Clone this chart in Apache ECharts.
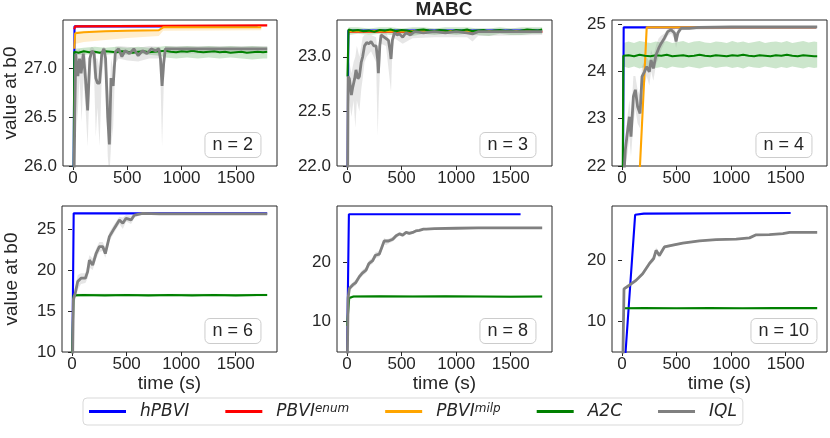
<!DOCTYPE html>
<html>
<head>
<meta charset="utf-8">
<script src="https://cdn.jsdelivr.net/npm/echarts@6/dist/echarts.min.js"></script>
<style>
html, body { margin: 0; padding: 0; background: #fff; }
#chart { width: 830px; height: 438px; }
</style>
</head>
<body>
<div id="chart"></div>
<script>
const algos = ['hPBVI', 'PBVI^enum', 'PBVI^milp', 'A2C', 'IQL']
const colors = ['#0000ff', '#ff0000', '#ffa500', '#008000', '#808080']
const panelLabels = ['n = 2', 'n = 3', 'n = 4', 'n = 6', 'n = 8', 'n = 10']
const xTicks = [0, 500, 1000, 1500]
const yMins = [26, 22, 22, 10, 4.9, 4.9]
const yMaxs = [27.495, 23.337, 25.085, 27.8, 29.5, 28.95]
const yTicks = [[26, 26.5, 27], [22, 22.5, 23], [22, 23, 24, 25], [10, 15, 20, 25], [10, 20], [10, 20]]

// ---- n = 2 ----
const hpbvi2 = [[3, 25.5], [14, 27.43], [1700, 27.43]]
const enum2 = [[12, 27.40], [20, 27.43], [800, 27.435], [1788, 27.44]]
const milp2 = [[12, 27.20], [20, 27.36], [100, 27.37], [300, 27.38], [500, 27.385], [790, 27.39], [830, 27.42], [1000, 27.42], [1400, 27.42], [1733, 27.42]]
const milpBand2 = [[15, 27.25, 27.38], [100, 27.27, 27.385], [300, 27.29, 27.39], [500, 27.31, 27.395], [790, 27.33, 27.40], [830, 27.385, 27.43], [1733, 27.39, 27.43]]
const a2c2 = [[6, 25.8], [12, 27.17], [50, 27.16], [100, 27.175], [150, 27.165], [200, 27.17], [250, 27.16], [300, 27.175], [350, 27.17], [400, 27.165], [450, 27.175], [500, 27.17], [550, 27.16], [600, 27.17], [650, 27.175], [700, 27.165], [750, 27.17], [800, 27.175], [850, 27.18], [900, 27.17], [950, 27.165], [1000, 27.175], [1050, 27.17], [1100, 27.18], [1150, 27.17], [1200, 27.165], [1250, 27.17], [1300, 27.175], [1350, 27.165], [1400, 27.17], [1450, 27.16], [1500, 27.165], [1550, 27.17], [1600, 27.16], [1650, 27.165], [1700, 27.17], [1750, 27.165], [1788, 27.17]]
const a2cBand2 = [[14, 27.14, 27.20], [100, 27.14, 27.21], [200, 27.15, 27.22], [300, 27.14, 27.21], [400, 27.15, 27.22], [500, 27.14, 27.21], [600, 27.15, 27.22], [700, 27.14, 27.21], [800, 27.13, 27.22], [850, 27.11, 27.23], [950, 27.10, 27.22], [1050, 27.11, 27.23], [1150, 27.10, 27.22], [1250, 27.11, 27.23], [1350, 27.10, 27.22], [1450, 27.11, 27.23], [1550, 27.10, 27.22], [1650, 27.09, 27.23], [1750, 27.10, 27.22], [1788, 27.10, 27.22]]
const iql2 = [[5, 25.5], [25, 27.15], [45, 26.92], [60, 27.1], [75, 26.95], [95, 27.15], [115, 26.9], [135, 26.57], [155, 27.1], [175, 27.18], [195, 27.15], [210, 26.9], [225, 26.85], [245, 26.85], [265, 27.15], [285, 27.2], [300, 27.1], [320, 26.5], [335, 26.22], [350, 26.9], [370, 26.82], [390, 27.17], [420, 27.2], [450, 27.12], [480, 27.18], [520, 27.15], [560, 27.2], [600, 27.13], [640, 27.18], [680, 27.15], [720, 27.2], [760, 27.18], [790, 27.2], [805, 27.1], [820, 26.82], [835, 27.05], [850, 27.2], [1000, 27.2], [1200, 27.2], [1500, 27.2], [1788, 27.2]]
const iqlBand2 = [[5, 25.5, 26.5], [25, 27.0, 27.2], [40, 26.45, 27.18], [60, 26.9, 27.2], [80, 26.45, 27.15], [95, 26.9, 27.2], [115, 26.6, 27.15], [135, 26.2, 26.9], [155, 26.9, 27.2], [175, 27.1, 27.22], [195, 26.9, 27.2], [210, 26.3, 27.1], [225, 26.6, 27.1], [245, 26.2, 27.0], [265, 26.9, 27.2], [285, 27.1, 27.22], [300, 26.9, 27.2], [320, 26.1, 26.9], [335, 25.9, 26.6], [350, 26.2, 27.1], [370, 26.4, 27.0], [390, 27.05, 27.22], [420, 27.1, 27.23], [500, 27.08, 27.22], [600, 27.07, 27.21], [700, 27.1, 27.23], [800, 27.1, 27.22], [805, 26.9, 27.2], [820, 26.2, 27.0], [835, 26.8, 27.15], [850, 27.15, 27.23], [1788, 27.16, 27.23]]

// ---- n = 3 ----
const hpbvi3 = [[2, 21.5], [12, 23.24], [1780, 23.24]]
const enum3 = [[10, 23.23], [1790, 23.23]]
const milp3 = [[10, 23.235], [1750, 23.235]]
const a2c3 = [[4, 22.82], [14, 23.25], [50, 23.24], [100, 23.245], [150, 23.235], [200, 23.24], [250, 23.23], [300, 23.245], [350, 23.24], [400, 23.25], [450, 23.235], [500, 23.245], [550, 23.24], [600, 23.23], [650, 23.245], [700, 23.25], [750, 23.24], [800, 23.235], [850, 23.245], [900, 23.24], [950, 23.23], [1000, 23.245], [1050, 23.24], [1100, 23.25], [1150, 23.235], [1200, 23.24], [1250, 23.245], [1300, 23.23], [1350, 23.24], [1400, 23.245], [1450, 23.235], [1500, 23.24], [1550, 23.23], [1600, 23.24], [1650, 23.25], [1700, 23.245], [1750, 23.24], [1788, 23.25]]
const a2cBand3 = [[4, 22.75, 22.9], [14, 23.2, 23.27], [100, 23.21, 23.27], [200, 23.2, 23.26], [300, 23.21, 23.27], [400, 23.2, 23.27], [500, 23.21, 23.26], [600, 23.19, 23.27], [700, 23.21, 23.27], [800, 23.2, 23.26], [900, 23.21, 23.27], [1000, 23.2, 23.27], [1100, 23.21, 23.27], [1200, 23.2, 23.26], [1300, 23.19, 23.26], [1400, 23.21, 23.27], [1500, 23.2, 23.26], [1600, 23.2, 23.27], [1700, 23.21, 23.27], [1788, 23.21, 23.27]]
const iql3 = [[5, 21.8], [10, 22.82], [21, 22.8], [40, 22.65], [52, 22.72], [70, 22.8], [82, 22.88], [100, 22.8], [113, 22.82], [130, 22.95], [143, 23.0], [160, 23.1], [180, 23.13], [200, 23.12], [220, 23.14], [245, 23.1], [266, 23.1], [280, 22.98], [287, 22.85], [300, 23.1], [312, 23.2], [340, 23.18], [357, 23.17], [380, 23.15], [395, 23.05], [403, 22.98], [415, 23.15], [434, 23.22], [460, 23.2], [480, 23.21], [510, 23.18], [540, 23.22], [580, 23.2], [620, 23.23], [700, 23.22], [800, 23.23], [900, 23.22], [1000, 23.23], [1100, 23.22], [1150, 23.21], [1200, 23.23], [1400, 23.23], [1600, 23.23], [1788, 23.23]]
const iqlBand3 = [[5, 21.5, 22.2], [10, 22.6, 22.9], [21, 22.6, 22.95], [40, 22.45, 22.85], [60, 22.6, 22.95], [76, 22.35, 23.0], [90, 22.6, 23.1], [113, 22.5, 23.0], [130, 22.7, 23.1], [143, 22.8, 23.18], [160, 22.95, 23.2], [180, 23.0, 23.2], [220, 23.05, 23.2], [266, 22.95, 23.18], [281, 22.28, 23.05], [290, 22.6, 23.1], [312, 23.12, 23.24], [357, 23.1, 23.23], [403, 22.68, 23.1], [415, 23.05, 23.22], [434, 23.17, 23.26], [510, 23.12, 23.24], [600, 23.17, 23.26], [800, 23.18, 23.26], [1100, 23.18, 23.25], [1150, 23.14, 23.25], [1200, 23.19, 23.26], [1788, 23.2, 23.26]]

// ---- n = 4 ----
const hpbvi4 = [[8, 21.5], [15, 24.93], [1780, 24.93]]
const milp4 = [[160, 21.8], [226, 24.93], [1780, 24.93]]
const a2c4 = [[6, 21.5], [12, 24.33], [60, 24.34], [110, 24.32], [160, 24.35], [210, 24.33], [260, 24.32], [310, 24.34], [360, 24.33], [410, 24.35], [460, 24.32], [510, 24.33], [560, 24.34], [610, 24.32], [660, 24.33], [710, 24.35], [760, 24.33], [810, 24.32], [860, 24.34], [910, 24.33], [960, 24.32], [1010, 24.34], [1060, 24.33], [1110, 24.35], [1160, 24.33], [1210, 24.32], [1260, 24.34], [1310, 24.33], [1360, 24.32], [1410, 24.34], [1460, 24.33], [1510, 24.35], [1560, 24.33], [1610, 24.32], [1660, 24.34], [1710, 24.33], [1760, 24.32], [1788, 24.32]]
const a2cBand4 = [[12, 24.1, 24.6], [60, 24.07, 24.63], [110, 24.1, 24.6], [160, 24.06, 24.64], [210, 24.09, 24.62], [260, 24.1, 24.6], [310, 24.07, 24.63], [360, 24.09, 24.61], [410, 24.06, 24.64], [460, 24.1, 24.6], [510, 24.08, 24.62], [560, 24.07, 24.64], [610, 24.1, 24.6], [660, 24.08, 24.63], [710, 24.06, 24.64], [760, 24.09, 24.61], [810, 24.1, 24.6], [860, 24.07, 24.63], [910, 24.09, 24.62], [960, 24.1, 24.6], [1010, 24.07, 24.64], [1060, 24.09, 24.61], [1110, 24.06, 24.63], [1160, 24.1, 24.6], [1210, 24.08, 24.62], [1260, 24.07, 24.64], [1310, 24.1, 24.6], [1360, 24.08, 24.62], [1410, 24.06, 24.63], [1460, 24.09, 24.61], [1510, 24.07, 24.64], [1560, 24.1, 24.6], [1610, 24.08, 24.62], [1660, 24.06, 24.64], [1710, 24.09, 24.61], [1760, 24.07, 24.63], [1788, 24.08, 24.62]]
const iql4 = [[10, 21.5], [30, 22.34], [52, 22.76], [67, 23.04], [82, 22.62], [104, 23.47], [122, 23.61], [143, 23.25], [165, 23.11], [183, 23.89], [205, 23.99], [226, 24.10], [250, 23.99], [266, 24.24], [287, 24.06], [312, 24.35], [336, 24.49], [358, 24.59], [388, 24.70], [419, 24.84], [449, 24.88], [480, 24.81], [495, 24.63], [511, 24.81], [541, 24.91], [617, 24.91], [700, 24.93], [1000, 24.94], [1788, 24.94]]
const iqlBand4 = [[10, 21.5, 22.0], [30, 22.0, 22.6], [52, 22.3, 23.1], [67, 22.6, 23.4], [82, 22.2, 23.0], [104, 22.9, 23.9], [122, 23.2, 23.9], [143, 22.9, 23.6], [165, 22.8, 23.5], [183, 23.6, 24.1], [205, 23.7, 24.2], [226, 23.9, 24.3], [250, 23.7, 24.2], [266, 24.0, 24.45], [287, 23.8, 24.3], [312, 24.15, 24.55], [336, 24.3, 24.7], [358, 24.45, 24.75], [388, 24.6, 24.8], [419, 24.75, 24.9], [449, 24.8, 24.95], [480, 24.7, 24.9], [495, 24.5, 24.8], [511, 24.7, 24.9], [541, 24.87, 24.95], [617, 24.88, 24.95], [1788, 24.92, 24.96]]

// ---- n = 6 ----
const hpbvi6 = [[2, 8], [15, 26.9], [1788, 26.9]]
const a2c6 = [[0, 9.5], [14, 16.9], [100, 16.95], [300, 16.9], [500, 16.95], [700, 16.9], [900, 16.95], [1100, 16.9], [1300, 16.95], [1500, 16.9], [1700, 16.95], [1788, 16.95]]
const a2cBand6 = [[14, 16.75, 17.1], [300, 16.8, 17.1], [700, 16.78, 17.08], [1100, 16.8, 17.1], [1500, 16.78, 17.08], [1788, 16.8, 17.1]]
const iql6 = [[5, 9], [12, 16.4], [30, 17.2], [52, 18.6], [82, 19.0], [122, 19.0], [143, 19.8], [159, 21.2], [189, 20.6], [220, 22.0], [250, 22.85], [281, 22.85], [305, 22.0], [342, 24.07], [388, 25.1], [434, 26.1], [465, 25.7], [495, 26.3], [541, 26.1], [572, 26.7], [648, 26.9], [800, 26.85], [1000, 26.85], [1400, 26.85], [1788, 26.85]]
const iqlBand6 = [[5, 8, 10], [12, 15.6, 17.0], [30, 16.4, 18.0], [52, 17.6, 19.4], [82, 18.3, 19.6], [122, 18.4, 19.6], [143, 19.0, 20.8], [159, 20.3, 21.8], [189, 20.0, 21.4], [220, 21.3, 22.6], [250, 22.2, 23.4], [281, 22.3, 23.4], [305, 21.5, 22.7], [342, 23.5, 24.6], [388, 24.6, 25.6], [434, 25.6, 26.5], [465, 25.0, 26.4], [495, 25.9, 26.7], [541, 25.6, 26.6], [572, 26.4, 26.95], [648, 26.75, 27.0], [800, 26.78, 26.92], [1788, 26.78, 26.92]]

// ---- n = 8 ----
const hpbvi8 = [[0, 4], [17, 28.1], [1590, 28.1]]
const a2c8 = [[0, 9.3], [20, 14.0], [60, 14.25], [300, 14.3], [600, 14.25], [900, 14.3], [1200, 14.25], [1500, 14.2], [1788, 14.25]]
const a2cBand8 = [[20, 13.8, 14.3], [60, 14.05, 14.45], [600, 14.05, 14.45], [1200, 14.05, 14.45], [1788, 14.05, 14.45]]
const iql8 = [[3, 4], [10, 14.0], [21, 15.6], [52, 16.2], [80, 16.6], [113, 17.6], [140, 18.2], [174, 18.7], [200, 19.8], [235, 20.3], [260, 21.2], [296, 21.4], [320, 22.6], [340, 23.6], [358, 23.4], [380, 23.6], [419, 23.9], [450, 24.5], [480, 24.8], [510, 24.6], [541, 25.05], [570, 24.9], [602, 25.05], [630, 25.3], [663, 25.4], [700, 25.6], [725, 25.6], [800, 25.7], [1000, 25.75], [1200, 25.8], [1500, 25.8], [1788, 25.8]]
const iqlBand8 = [[3, 4, 5], [10, 13.4, 14.6], [21, 15.1, 16.1], [52, 15.8, 16.6], [80, 16.1, 17.1], [113, 17.1, 18.1], [140, 17.7, 18.7], [174, 18.2, 19.2], [200, 19.3, 20.3], [235, 19.8, 20.8], [260, 20.7, 21.7], [296, 20.9, 21.9], [320, 22.1, 23.1], [340, 23.1, 24.1], [358, 22.9, 23.9], [380, 23.2, 24.0], [419, 23.5, 24.3], [450, 24.1, 24.8], [480, 24.5, 25.1], [510, 24.3, 24.9], [541, 24.8, 25.3], [570, 24.6, 25.2], [602, 24.8, 25.3], [630, 25.1, 25.5], [663, 25.2, 25.6], [700, 25.45, 25.75], [725, 25.45, 25.75], [800, 25.6, 25.8], [1788, 25.7, 25.9]]

// ---- n = 10 ----
const hpbvi10 = [[25, 3], [120, 27.5], [200, 27.7], [1545, 27.8]]
const a2c10 = [[20, 12.1], [200, 12.15], [500, 12.1], [800, 12.15], [1100, 12.1], [1400, 12.15], [1788, 12.12]]
const a2cBand10 = [[20, 11.95, 12.25], [500, 11.95, 12.25], [1100, 11.95, 12.25], [1788, 11.97, 12.27]]
const iql10 = [[8, 4], [18, 15.3], [67, 15.9], [128, 16.7], [189, 17.8], [250, 19.45], [290, 20.3], [312, 21.65], [342, 20.8], [388, 22.2], [465, 22.5], [556, 22.85], [709, 23.2], [862, 23.4], [1046, 23.5], [1168, 23.7], [1229, 24.2], [1350, 24.25], [1474, 24.4], [1535, 24.6], [1650, 24.6], [1788, 24.6]]
const iqlBand10 = [[8, 4, 5], [18, 15.0, 15.6], [67, 15.6, 16.2], [128, 16.4, 17.0], [189, 17.5, 18.1], [250, 19.1, 19.8], [290, 19.8, 20.8], [312, 21.2, 22.1], [342, 20.4, 21.2], [388, 21.9, 22.5], [465, 22.3, 22.7], [556, 22.7, 23.0], [709, 23.05, 23.35], [862, 23.3, 23.5], [1046, 23.4, 23.6], [1168, 23.6, 23.8], [1229, 24.1, 24.3], [1350, 24.15, 24.35], [1474, 24.3, 24.5], [1535, 24.5, 24.7], [1650, 24.5, 24.7], [1788, 24.5, 24.7]]

// per panel: [algo index, line, band]
const panels = [
    [[0, hpbvi2], [1, enum2], [2, milp2, milpBand2], [3, a2c2, a2cBand2], [4, iql2, iqlBand2]],
    [[0, hpbvi3], [1, enum3], [2, milp3], [3, a2c3, a2cBand3], [4, iql3, iqlBand3]],
    [[0, hpbvi4], [2, milp4], [3, a2c4, a2cBand4], [4, iql4, iqlBand4]],
    [[0, hpbvi6], [3, a2c6, a2cBand6], [4, iql6, iqlBand6]],
    [[0, hpbvi8], [3, a2c8, a2cBand8], [4, iql8, iqlBand8]],
    [[0, hpbvi10], [3, a2c10, a2cBand10], [4, iql10, iqlBand10]],
]

const font = '"Liberation Sans", Arial, sans-serif'
const ink = '#262626'
const gridLefts = [62, 337, 612]
const gridTops = [20, 206]
const boxRights = [569, 294, 18, 569, 294, 13]

const grids = []
const xAxes = []
const yAxes = []
for (let i = 0; i < 6; i++) {
    const col = i % 3
    const row = Math.floor(i / 3)
    grids.push({
        left: gridLefts[col], top: gridTops[row], width: 215, height: 146,
        show: true, borderColor: ink, borderWidth: 1, backgroundColor: '#fff',
    })
    xAxes.push({
        type: 'value', gridIndex: i, min: -92, max: 1878,
        name: row === 1 ? 'time (s)' : '', nameLocation: 'middle', nameGap: 22,
        nameTextStyle: { fontFamily: font, fontSize: 19, color: ink },
        axisLine: { show: false },
        axisTick: { show: true, length: 4, lineStyle: { color: ink }, customValues: xTicks },
        axisLabel: {
            fontFamily: font, fontSize: 17, color: ink, margin: 4, customValues: xTicks,
            formatter: (v) => String(v),
        },
        splitLine: { show: false },
    })
    yAxes.push({
        type: 'value', gridIndex: i, min: yMins[i], max: yMaxs[i],
        name: col === 0 ? 'value at b0' : '', nameLocation: 'middle', nameGap: 41,
        nameTextStyle: { fontFamily: font, fontSize: 19, color: ink },
        axisLine: { show: false },
        axisTick: { show: true, length: 4, lineStyle: { color: ink }, customValues: yTicks[i] },
        axisLabel: {
            fontFamily: font, fontSize: 17, color: ink, margin: 6, customValues: yTicks[i],
            formatter: (v) => (i < 2 ? v.toFixed(1) : String(v)),
        },
        splitLine: { show: false },
    })
}

const bandSeries = (color, band, idx) => ({
    type: 'custom', xAxisIndex: idx, yAxisIndex: idx, silent: true,
    data: [[band[0][0], band[0][1]]],
    renderItem: (params, api) => {
        const upper = band.map((b) => api.coord([b[0], b[2]]))
        const lower = band.slice().reverse().map((b) => api.coord([b[0], b[1]]))
        const cs = params.coordSys
        return {
            type: 'polygon',
            shape: { points: upper.concat(lower) },
            style: { fill: color, opacity: 0.2 },
            clipPath: { type: 'rect', shape: { x: cs.x, y: cs.y, width: cs.width, height: cs.height } },
        }
    },
})

const series = []
panels.forEach((panel, idx) => {
    panel.forEach(([a, line, band]) => {
        if (band) {
            series.push(bandSeries(colors[a], band, idx))
        }
        series.push({
            type: 'line', name: algos[a], data: line, xAxisIndex: idx, yAxisIndex: idx,
            symbol: 'none', clip: true,
            lineStyle: { color: colors[a], width: a === 4 ? 2.8 : 2.1 },
            itemStyle: { color: colors[a] },
        })
    })
})

const titles = [{
    text: 'MABC', left: 444, top: 0, textAlign: 'center', padding: 0,
    textStyle: { fontFamily: font, fontSize: 19, fontWeight: 'bold', color: ink },
}]
panelLabels.forEach((label, i) => {
    titles.push({
        text: label, right: boxRights[i], top: i < 3 ? 132 : 318,
        padding: [4, 8], borderWidth: 1, borderColor: '#cccccc', borderRadius: 5,
        backgroundColor: 'rgba(255,255,255,0.8)',
        textStyle: { fontFamily: font, fontSize: 18, fontWeight: 'normal', color: ink },
    })
})

const legendFont = '"DejaVu Sans", sans-serif'
const legendLabel = (name) => {
    if (name === 'PBVI^enum') return '{m|PBVI}{s|enum}'
    if (name === 'PBVI^milp') return '{m|PBVI}{s|milp}'
    return '{m|' + name + '}'
}

const chart = echarts.init(document.getElementById('chart'), null, { renderer: 'canvas' })
chart.setOption({
    animation: false,
    backgroundColor: '#fff',
    title: titles,
    grid: grids,
    xAxis: xAxes,
    yAxis: yAxes,
    legend: {
        data: algos, left: 83, top: 398, padding: [5, 6, 5, 6], itemGap: 36,
        icon: 'rect', itemWidth: 37, itemHeight: 3,
        borderColor: '#d9d9d9', borderWidth: 1, borderRadius: 4,
        formatter: legendLabel,
        textStyle: {
            padding: [0, 0, 0, 9],
            rich: {
                m: { fontFamily: legendFont, fontStyle: 'italic', fontSize: 17, color: ink },
                s: { fontFamily: legendFont, fontStyle: 'italic', fontSize: 12, color: ink, verticalAlign: 'top' },
            },
        },
    },
    series: series,
})
</script>
</body>
</html>
